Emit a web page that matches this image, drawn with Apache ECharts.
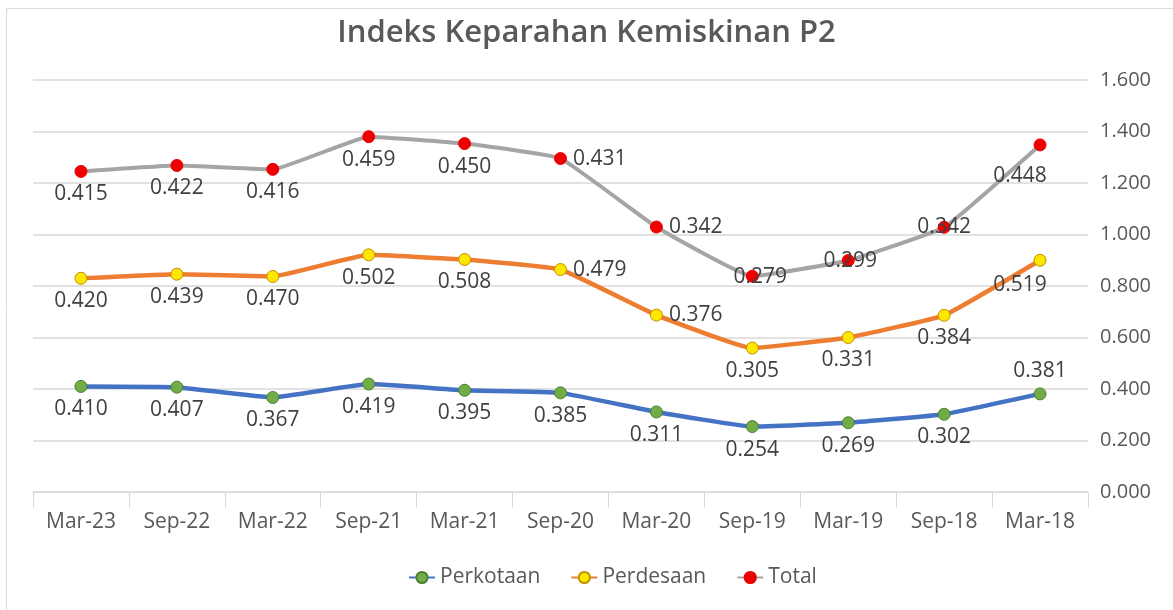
<!DOCTYPE html>
<html>
<head>
<meta charset="utf-8">
<script src="https://cdn.jsdelivr.net/npm/echarts@6/dist/echarts.min.js"></script>
<style>
  html, body { margin: 0; padding: 0; background: #fff; }
  #chart { width: 1173px; height: 610px; }
</style>
</head>
<body>
<div id="chart"></div>
<script>
// data
const categories = ['Mar-23', 'Sep-22', 'Mar-22', 'Sep-21', 'Mar-21', 'Sep-20', 'Mar-20', 'Sep-19', 'Mar-19', 'Sep-18', 'Mar-18']
const perkotaan = [0.410, 0.407, 0.367, 0.419, 0.395, 0.385, 0.311, 0.254, 0.269, 0.302, 0.381]
const perdesaan = [0.420, 0.439, 0.470, 0.502, 0.508, 0.479, 0.376, 0.305, 0.331, 0.384, 0.519]
const total = [0.415, 0.422, 0.416, 0.459, 0.450, 0.431, 0.342, 0.279, 0.299, 0.342, 0.448]

const FONT = '"Open Sans", sans-serif'
const TXT = '#404040'

// label placement overrides (index -> label opts)
const labelFix = {
  perkotaan: { 10: { position: 'top' } },
  perdesaan: { 5: { position: 'right' }, 6: { position: 'right' }, 10: { position: 'bottom', offset: [-20, 2] } },
  total: {
    5: { position: 'right' },
    6: { position: 'right' },
    7: { position: 'inside', offset: [8, 1] },
    8: { position: 'inside', offset: [2, 1] },
    9: { position: 'inside', offset: [0, 0] },
    10: { position: 'bottom', offset: [-20, 8] }
  }
}

function build(vals, fix) {
  return vals.map((v, i) => {
    if (fix[i]) return { value: v, label: fix[i] }
    return v
  })
}

function makeSeries(name, vals, fix, lineColor, fill, border, lw) {
  return {
    name: name,
    type: 'line',
    stack: 'all',
    smooth: 0.1,
    data: build(vals, fix),
    symbol: 'circle',
    symbolSize: 12,
    lineStyle: { color: lineColor, width: lw },
    itemStyle: { color: fill, borderColor: border, borderWidth: 1 },
    label: {
      show: true,
      position: 'bottom',
      distance: 6,
      fontFamily: FONT,
      fontSize: 21,
      color: TXT,
      formatter: (p) => Number(p.value).toFixed(3)
    },
    emphasis: { disabled: true }
  }
}

const chart = echarts.init(document.getElementById('chart'))
chart.setOption({
  backgroundColor: '#fff',
  animation: false,
  graphic: [{
    type: 'rect',
    shape: { x: 6.5, y: 8.5, width: 1180, height: 620 },
    style: { fill: 'none', stroke: '#d9d9d9', lineWidth: 1 },
    silent: true
  }],
  title: {
    text: 'Indeks Keparahan Kemiskinan P2',
    left: 'center',
    top: 13,
    textStyle: { fontFamily: FONT, fontSize: 31, fontWeight: 600, color: '#595959' }
  },
  legend: {
    bottom: 17,
    left: 403,
    itemWidth: 26,
    itemHeight: 14,
    itemGap: 30,
    textStyle: { fontFamily: FONT, fontSize: 21, color: '#595959' },
    data: ['Perkotaan', 'Perdesaan', 'Total']
  },
  grid: { left: 33, right: 85, top: 80, bottom: 118 },
  xAxis: {
    type: 'category',
    data: categories,
    boundaryGap: true,
    axisLine: { lineStyle: { color: '#d9d9d9', width: 1 } },
    axisTick: { show: true, length: 16, interval: 0, lineStyle: { color: '#d9d9d9' } },
    axisLabel: { fontFamily: FONT, fontSize: 21, color: '#595959', margin: 20 }
  },
  yAxis: {
    type: 'value',
    position: 'right',
    min: 0,
    max: 1.6,
    interval: 0.2,
    axisLine: { show: false },
    axisTick: { show: false },
    axisLabel: {
      fontFamily: FONT, fontSize: 20, color: '#595959', margin: 12,
      formatter: (v) => v.toFixed(3)
    },
    splitLine: { lineStyle: { color: '#d9d9d9', width: 1.5 } }
  },
  series: [
    makeSeries('Perkotaan', perkotaan, labelFix.perkotaan, '#4472c4', '#70ad47', '#507e32', 4.5),
    makeSeries('Perdesaan', perdesaan, labelFix.perdesaan, '#ed7d31', '#ffe600', '#bf9000', 4.5),
    makeSeries('Total', total, labelFix.total, '#a5a5a5', '#ee0000', '#ee0000', 4)
  ]
})
</script>
</body>
</html>
